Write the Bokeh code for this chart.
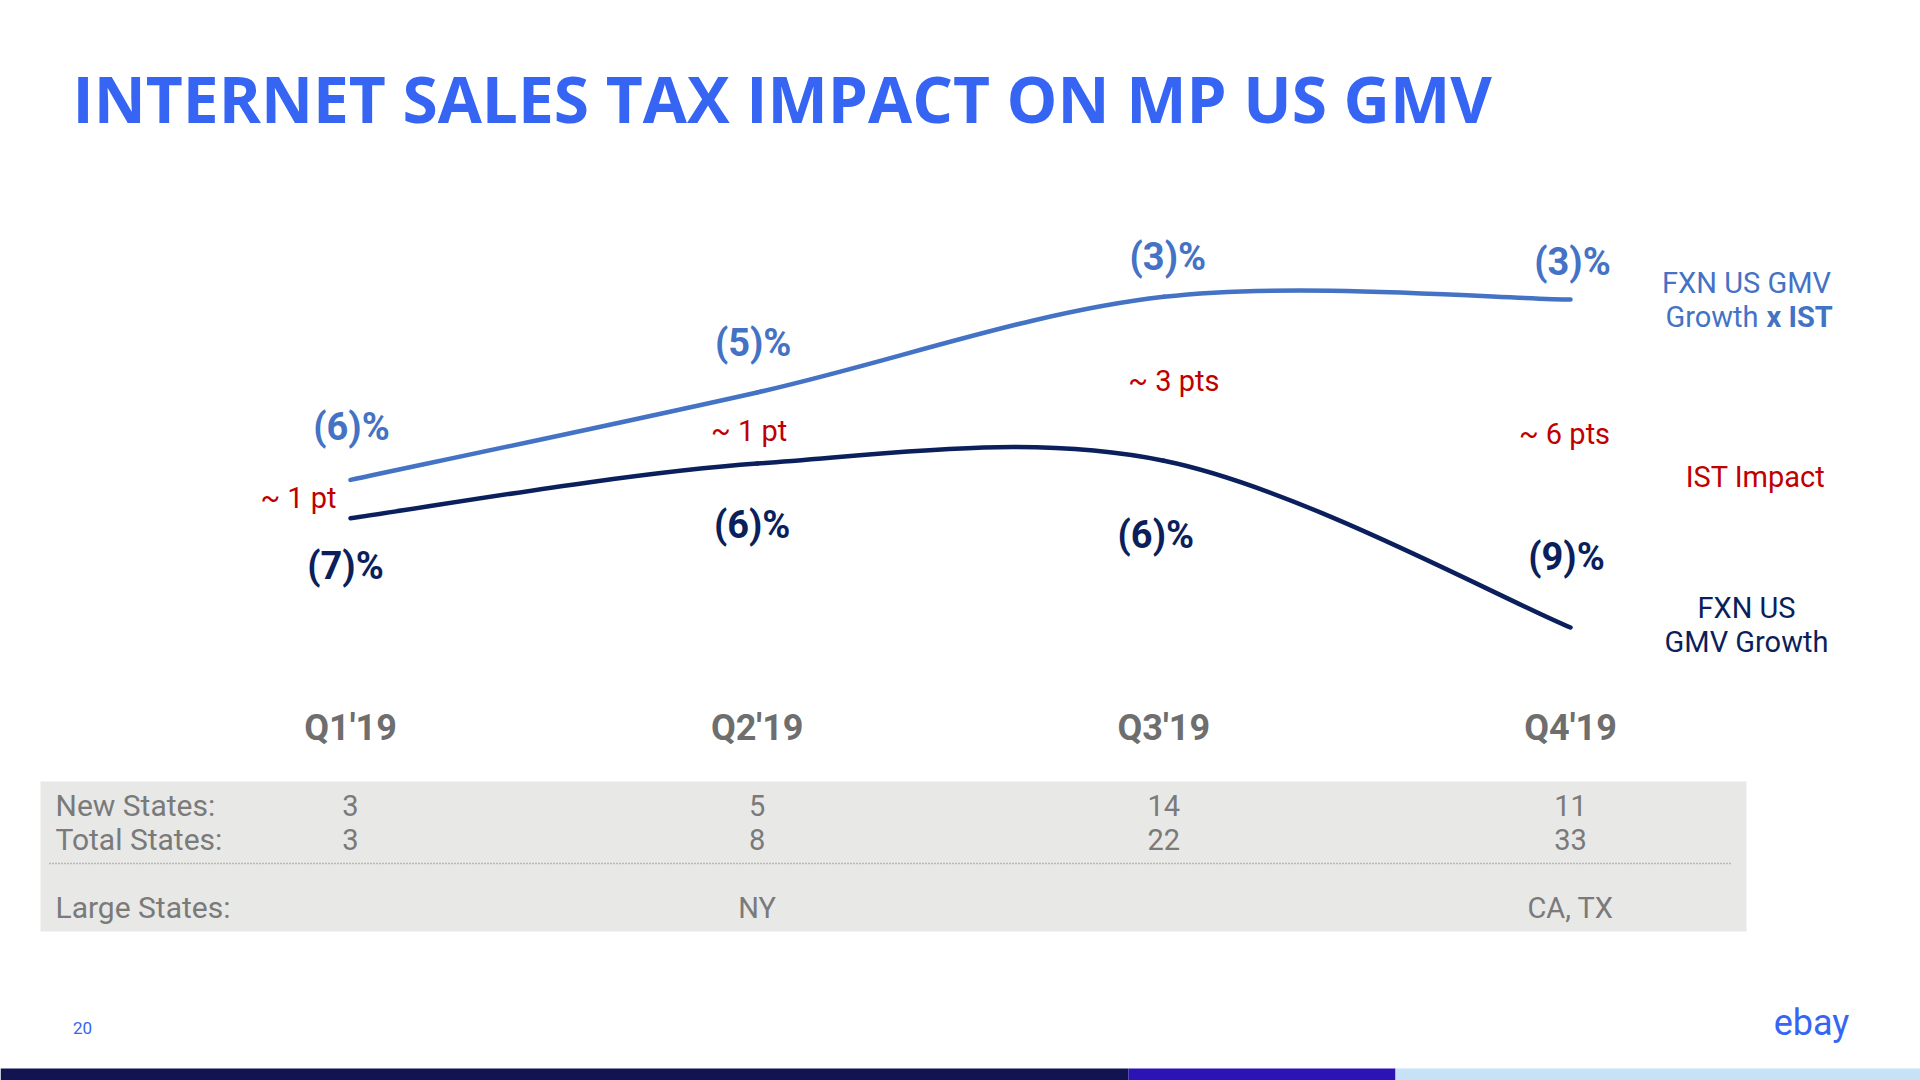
from bokeh.plotting import figure
from bokeh.models import Range1d
from bokeh.core.properties import value
from bokeh.embed import file_html
from bokeh.resources import INLINE

# ---------------- data ----------------
QUARTERS = ["Q1'19", "Q2'19", "Q3'19", "Q4'19"]
GMV_X_IST = [-6.3, -4.7, -2.95, -3.0]      # FXN US GMV Growth x IST (%)
GMV = [-7.0, -6.0, -5.95, -9.0]            # FXN US GMV Growth (%)
GAP_LABELS = ["~ 1 pt", "~ 1 pt", "~ 3 pts", "~ 6 pts"]
NEW_STATES = [3, 5, 14, 11]
TOTAL_STATES = [3, 8, 22, 33]
LARGE_STATES = ["", "NY", "", "CA, TX"]

# ---------------- layout (page pixels) ----------------
W, H, M = 1920, 1080, 0
QX0, QSTEP = 350.0, 406.67          # page x of first quarter, spacing
VREF, VREF_PX, VPX = -3.0, 299.0, 54.67  # value -> page y mapping

UP_DX = [1, -4, 4, 2]
UP_DY = [-53, -49, -40, -38]
LO_DX = [-5, -5, -8, -4]
LO_DY = [48, 61, 74, -71]
GAP_DX = [-52, -8, 10, -6]
GAP_DY = [-1, 3, 2, -30]

C_TITLE = "#3665F3"
C_UP = "#4472C4"
C_LO = "#0B1F5C"
C_RED = "#C00000"
C_GRAY = "#7A7A7A"
FONT = "Roboto"


def X(px):
    return (px - QX0) / QSTEP


def Y(py):
    return VREF - (py - VREF_PX) / VPX


p = figure(width=W, height=H, x_range=Range1d(X(M), X(M + W)),
           y_range=Range1d(Y(M + H), Y(M)), output_backend="svg",
           toolbar_location=None, min_border=0, x_axis_location=None,
           y_axis_location=None, background_fill_color="white",
           border_fill_color="white", outline_line_color=None)
p.grid.visible = False


def txt(s, px, py, size, color, align="left", bold=False, baseline="middle", font=FONT):
    p.text(x=[X(px)], y=[Y(py)], text=[s], text_font=value(font),
           text_font_size=f"{size}px", text_color=color, text_align=align,
           text_baseline=baseline, text_font_style="bold" if bold else "normal")


def smooth(vals, color, width):
    n = len(vals)
    pts = [(float(i), float(v)) for i, v in enumerate(vals)]
    x0, y0, x1, y1, cx0, cy0, cx1, cy1 = ([] for _ in range(8))
    for i in range(n - 1):
        P0 = pts[i - 1] if i > 0 else pts[i]
        P1 = pts[i]
        P2 = pts[i + 1]
        P3 = pts[i + 2] if i + 2 < n else pts[i + 1]
        x0.append(P1[0]); y0.append(P1[1])
        x1.append(P2[0]); y1.append(P2[1])
        cx0.append(P1[0] + (P2[0] - P0[0]) / 6); cy0.append(P1[1] + (P2[1] - P0[1]) / 6)
        cx1.append(P2[0] - (P3[0] - P1[0]) / 6); cy1.append(P2[1] - (P3[1] - P1[1]) / 6)
    p.bezier(x0=x0, y0=y0, x1=x1, y1=y1, cx0=cx0, cy0=cy0, cx1=cx1, cy1=cy1,
             line_color=color, line_width=width, line_cap="round")


xs = list(range(len(QUARTERS)))

# title
txt("INTERNET SALES TAX IMPACT ON MP US GMV", 72, 98, 64, C_TITLE, bold=True,
    font="Open Sans")

# lines
smooth(GMV_X_IST, C_UP, 4.5)
smooth(GMV, C_LO, 4.5)

# value labels
p.text(x=[i + d / QSTEP for i, d in zip(xs, UP_DX)],
       y=[v - d / VPX for v, d in zip(GMV_X_IST, UP_DY)],
       text=[f"({round(-v)})%" for v in GMV_X_IST], text_font=value(FONT),
       text_font_size="38px", text_font_style="bold", text_color=C_UP,
       text_align="center", text_baseline="middle")
p.text(x=[i + d / QSTEP for i, d in zip(xs, LO_DX)],
       y=[v - d / VPX for v, d in zip(GMV, LO_DY)],
       text=[f"({round(-v)})%" for v in GMV], text_font=value(FONT),
       text_font_size="38px", text_font_style="bold", text_color=C_LO,
       text_align="center", text_baseline="middle")
p.text(x=[i + d / QSTEP for i, d in zip(xs, GAP_DX)],
       y=[(a + b) / 2 - d / VPX for a, b, d in zip(GMV_X_IST, GMV, GAP_DY)],
       text=GAP_LABELS, text_font=value(FONT), text_font_size="29px",
       text_color=C_RED, text_align="center", text_baseline="middle")

# series names
txt("FXN US GMV", 1746, 282, 29, C_UP, align="center")
txt("Growth", 1758, 316, 29, C_UP, align="right")
txt("x IST", 1766, 316, 29, C_UP, bold=True)
txt("IST Impact", 1755, 476, 29, C_RED, align="center")
txt("FXN US", 1746, 607, 29, C_LO, align="center")
txt("GMV Growth", 1746, 641, 29, C_LO, align="center")

# quarter labels
p.text(x=xs, y=[Y(727)] * len(xs), text=QUARTERS, text_font=value(FONT),
       text_font_size="36px", text_font_style="bold", text_color="#6E6E6E",
       text_align="center", text_baseline="middle")

# table
p.quad(left=[X(40)], right=[X(1746)], top=[Y(781)], bottom=[Y(931)],
       fill_color="#E8E8E7", line_color=None)
txt("New States:", 55, 805, 30, C_GRAY)
txt("Total States:", 55, 839, 30, C_GRAY)
txt("Large States:", 55, 907, 30, C_GRAY)
for row, py in ((NEW_STATES, 805), (TOTAL_STATES, 839), (LARGE_STATES, 907)):
    p.text(x=xs, y=[Y(py)] * len(xs), text=[str(v) for v in row],
           text_font=value(FONT), text_font_size="29px", text_color=C_GRAY,
           text_align="center", text_baseline="middle")
p.line(x=[X(49), X(1730)], y=[Y(863), Y(863)], line_color="#8A8A8A",
       line_width=1.5, line_dash="1 2")

# footer
txt("20", 82, 1027, 17, C_TITLE, align="center")
txt("ebay", 1811, 1022, 36, C_TITLE, align="center")
p.quad(left=[X(0), X(1128), X(1395)], right=[X(1128), X(1395), X(1920)],
       top=[Y(1068)] * 3, bottom=[Y(1080)] * 3,
       fill_color=["#111450", "#2B13B6", "#C6E2F6"], line_color=None)

open("out.html", "w").write(file_html(p, INLINE))
